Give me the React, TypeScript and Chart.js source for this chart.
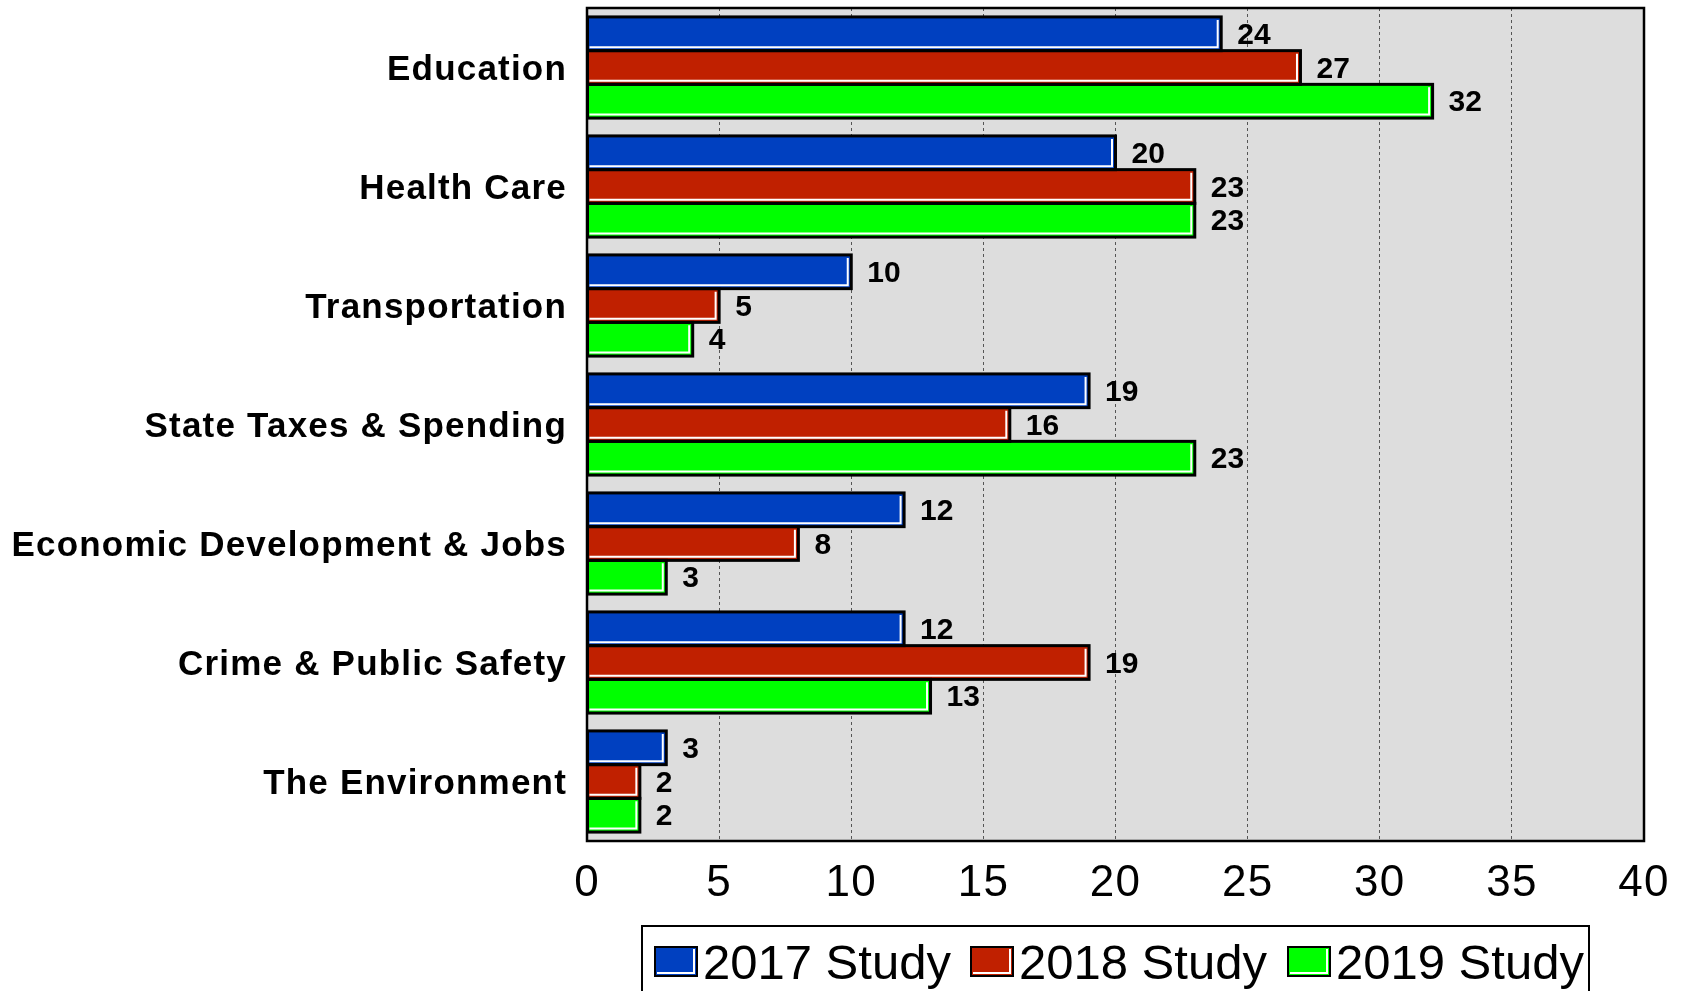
import React, { useEffect, useRef } from "react";
import { Chart, registerables } from "chart.js";

Chart.register(...registerables);

const categories = [
  "Education",
  "Health Care",
  "Transportation",
  "State Taxes & Spending",
  "Economic Development & Jobs",
  "Crime & Public Safety",
  "The Environment",
];
const seriesNames = ["2017 Study", "2018 Study", "2019 Study"];
const values2017 = [24, 20, 10, 19, 12, 12, 3];
const values2018 = [27, 23, 5, 16, 8, 19, 2];
const values2019 = [32, 23, 4, 23, 3, 13, 2];
const xTicks = [0, 5, 10, 15, 20, 25, 30, 35, 40];

const COLORS = ["#0040C0", "#C02000", "#00FF00"];
const FONT = "'Liberation Sans', Arial, sans-serif";

const plotBgPlugin = {
  id: "plotBg",
  beforeDraw(chart: any) {
    const { ctx, chartArea: a } = chart;
    ctx.save();
    ctx.fillStyle = "#DDDDDD";
    ctx.fillRect(a.left, a.top, a.right - a.left, a.bottom - a.top);
    ctx.restore();
    // wider tracking for axis labels
    (ctx as any).letterSpacing = "1.2px";
  },
  beforeDatasetsDraw(chart: any) {
    (chart.ctx as any).letterSpacing = "0px";
  },
  afterDraw(chart: any) {
    const { ctx, chartArea: a } = chart;
    ctx.save();
    ctx.strokeStyle = "#000";
    ctx.lineWidth = 2.5;
    ctx.strokeRect(a.left, a.top, a.right - a.left, a.bottom - a.top);

    // legend
    const lx = 642, ly = 926, lw = 947, lh = 80;
    ctx.lineWidth = 2;
    ctx.strokeRect(lx, ly, lw, lh);
    const swX = [655, 971, 1288];
    ctx.font = `49px ${FONT}`;
    ctx.textBaseline = "alphabetic";
    ctx.textAlign = "left";
    seriesNames.forEach((name, i) => {
      const sx = swX[i], sy = 947, sw = 42, sh = 29;
      ctx.fillStyle = COLORS[i];
      ctx.fillRect(sx, sy, sw, sh);
      ctx.strokeStyle = "#fff";
      ctx.lineWidth = 2;
      ctx.beginPath();
      ctx.moveTo(sx + sw - 3, sy + 2);
      ctx.lineTo(sx + sw - 3, sy + sh - 3);
      ctx.lineTo(sx + 2, sy + sh - 3);
      ctx.stroke();
      ctx.strokeStyle = "#000";
      ctx.lineWidth = 2;
      ctx.strokeRect(sx, sy, sw, sh);
      ctx.fillStyle = "#000";
      ctx.fillText(name, sx + 48, 979);
    });
    ctx.restore();
  },
};

const barDecorPlugin = {
  id: "barDecor",
  afterDatasetsDraw(chart: any) {
    const { ctx } = chart;
    ctx.save();
    chart.data.datasets.forEach((ds: any, di: number) => {
      const meta = chart.getDatasetMeta(di);
      meta.data.forEach((bar: any, i: number) => {
        const { x, y, base, height } = bar.getProps(["x", "y", "base", "height"], true);
        const top = y - height / 2;
        const bottom = y + height / 2;
        // white inner highlight
        ctx.strokeStyle = "#ffffff";
        ctx.lineWidth = 2;
        ctx.beginPath();
        ctx.moveTo(x - 3.5, top + 3);
        ctx.lineTo(x - 3.5, bottom - 3.5);
        ctx.lineTo(base + 2, bottom - 3.5);
        ctx.stroke();
        // black outline
        ctx.strokeStyle = "#000";
        ctx.lineWidth = 3;
        ctx.strokeRect(base, top, x - base, bottom - top);
        // value label
        ctx.fillStyle = "#000";
        ctx.font = `bold 30px ${FONT}`;
        ctx.textAlign = "left";
        ctx.textBaseline = "middle";
        ctx.fillText(String(ds.data[i]), x + 16, y + 2);
      });
    });
    ctx.restore();
  },
};

export default function App() {
  const canvasRef = useRef<HTMLCanvasElement | null>(null);

  useEffect(() => {
    if (!canvasRef.current) return;
    const chart = new Chart(canvasRef.current, {
      type: "bar",
      data: {
        labels: categories,
        datasets: [values2017, values2018, values2019].map((d, i) => ({
          label: seriesNames[i],
          data: d,
          backgroundColor: COLORS[i],
          borderWidth: 0,
          categoryPercentage: 0.85,
          barPercentage: 1.0,
        })),
      },
      options: {
        indexAxis: "y",
        animation: false,
        responsive: false,
        maintainAspectRatio: false,
        layout: { padding: { left: 0, top: 8, right: 41, bottom: 0 } },
        plugins: {
          legend: { display: false },
          tooltip: { enabled: false },
          title: { display: false },
        },
        scales: {
          x: {
            type: "linear",
            min: 0,
            max: 40,
            afterBuildTicks(scale: any) {
              scale.ticks = xTicks.map((v) => ({ value: v }));
            },
            afterFit(scale: any) {
              scale.height = 150;
              scale.paddingLeft = 0;
              scale.paddingRight = 0;
            },
            grid: {
              display: true,
              color: (c: any) => (c.tick && (c.tick.value === 0 || c.tick.value === 40) ? "rgba(0,0,0,0)" : "#555"),
              lineWidth: 1,
              drawTicks: false,
            },
            border: { display: false, dash: [3, 3] },
            ticks: {
              color: "#000",
              font: { family: FONT, size: 44 },
              padding: 16,
            },
          },
          y: {
            afterFit(scale: any) {
              scale.width = 587;
              scale.paddingTop = 0;
              scale.paddingBottom = 0;
            },
            grid: { display: false, drawTicks: false },
            border: { display: false },
            ticks: {
              color: "#000",
              font: { family: FONT, size: 35, weight: "bold" },
              padding: 20,
              labelOffset: 3,
            },
          },
        },
      },
      plugins: [plotBgPlugin, barDecorPlugin],
    } as any);
    return () => chart.destroy();
  }, []);

  return (
    <div style={{ position: "fixed", left: 0, top: 0, width: 1685, height: 991, background: "#fff" }}>
      <canvas ref={canvasRef} width={1685} height={991} style={{ width: 1685, height: 991, display: "block" }} />
    </div>
  );
}
